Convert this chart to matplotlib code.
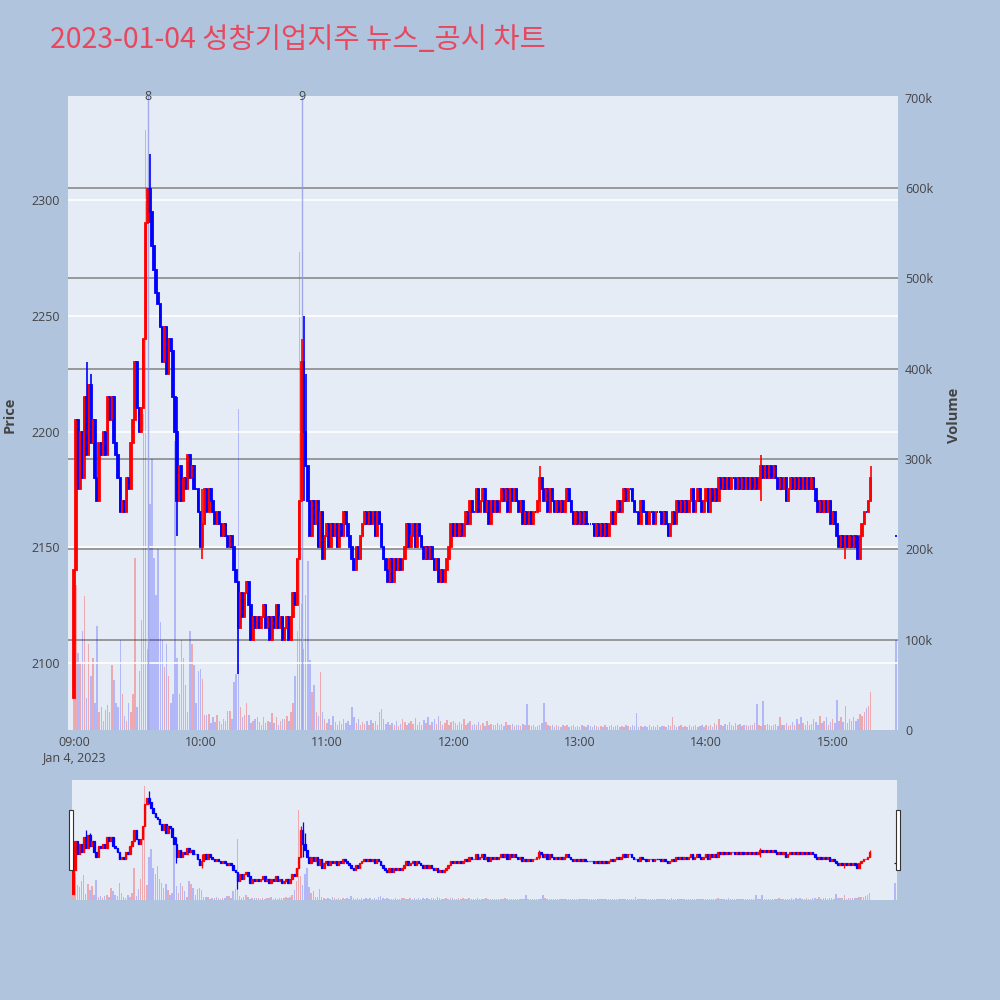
import numpy as np
import matplotlib.pyplot as plt
import matplotlib.transforms as mtransforms

plt.rcParams['font.family'] = ['Open Sans', 'DejaVu Sans']

# 차트 데이터 (1분봉, 09:00 = 0분)
title = '2023-01-04 성창기업지주 뉴스_공시 차트'
first_open = 2085
closes = [
    2140, 2205, 2175, 2200, 2180, 2215, 2190, 2220, 2195, 2205,
    2180, 2170, 2195, 2190, 2200, 2190, 2215, 2205, 2215, 2195,
    2190, 2180, 2165, 2170, 2165, 2180, 2175, 2195, 2205, 2230,
    2210, 2200, 2210, 2240, 2290, 2305, 2295, 2280, 2270, 2260,
    2255, 2245, 2230, 2245, 2225, 2240, 2235, 2215, 2200, 2170,
    2185, 2170, 2180, 2175, 2190, 2180, 2185, 2175, 2175, 2165,
    2150, 2160, 2175, 2165, 2175, 2170, 2165, 2160, 2165, 2160,
    2155, 2160, 2155, 2150, 2155, 2150, 2140, 2135, 2115, 2130,
    2120, 2130, 2135, 2125, 2110, 2120, 2115, 2120, 2115, 2120,
    2125, 2115, 2120, 2110, 2120, 2115, 2125, 2115, 2120, 2110,
    2115, 2120, 2110, 2120, 2130, 2125, 2145, 2170, 2230, 2200,
    2185, 2170, 2155, 2170, 2160, 2170, 2150, 2165, 2145, 2155,
    2160, 2150, 2160, 2155, 2160, 2150, 2160, 2155, 2165, 2160,
    2155, 2150, 2145, 2140, 2150, 2145, 2155, 2160, 2165, 2160,
    2165, 2160, 2165, 2155, 2165, 2160, 2150, 2145, 2140, 2135,
    2145, 2135, 2145, 2140, 2145, 2140, 2145, 2150, 2160, 2150,
    2155, 2160, 2150, 2160, 2155, 2150, 2145, 2150, 2145, 2150,
    2145, 2140, 2145, 2135, 2140, 2135, 2140, 2145, 2150, 2160,
    2155, 2160, 2155, 2160, 2155, 2160, 2165, 2160, 2170, 2165,
    2165, 2175, 2165, 2170, 2175, 2165, 2170, 2160, 2170, 2165,
    2170, 2165, 2170, 2175, 2170, 2175, 2165, 2175, 2170, 2175,
    2170, 2165, 2170, 2160, 2165, 2160, 2165, 2160, 2165, 2165,
    2170, 2180, 2175, 2170, 2175, 2165, 2175, 2170, 2165, 2170,
    2165, 2170, 2165, 2170, 2175, 2170, 2165, 2160, 2165, 2160,
    2165, 2160, 2165, 2160, 2160, 2160, 2160, 2155, 2160, 2155,
    2160, 2155, 2160, 2155, 2160, 2165, 2160, 2165, 2170, 2165,
    2170, 2175, 2170, 2175, 2175, 2170, 2165, 2165, 2160, 2170,
    2165, 2165, 2160, 2165, 2165, 2160, 2165, 2165, 2165, 2160,
    2165, 2160, 2155, 2160, 2165, 2160, 2170, 2165, 2170, 2165,
    2170, 2165, 2170, 2175, 2165, 2170, 2175, 2170, 2165, 2170,
    2175, 2165, 2175, 2170, 2175, 2170, 2180, 2175, 2180, 2175,
    2180, 2175, 2180, 2180, 2175, 2180, 2175, 2180, 2175, 2180,
    2175, 2180, 2175, 2180, 2175, 2180, 2185, 2180, 2185, 2180,
    2185, 2180, 2185, 2180, 2175, 2180, 2175, 2180, 2170, 2175,
    2180, 2175, 2180, 2175, 2180, 2175, 2180, 2175, 2180, 2175,
    2180, 2175, 2170, 2165, 2170, 2165, 2170, 2165, 2170, 2160,
    2165, 2160, 2155, 2150, 2155, 2150, 2155, 2150, 2155, 2150,
    2155, 2150, 2145, 2155, 2160, 2165, 2165, 2170, 2180,
]
wick_min = [0, 6, 8, 36, 49, 61, 78, 108, 109, 110, 221, 326, 366, 372, 378]
wick_high = [2140, 2230, 2225, 2320, 2215, 2175, 2125, 2240, 2250, 2225, 2185, 2190, 2155, 2155, 2185]
wick_low = [2085, 2190, 2195, 2290, 2155, 2145, 2095, 2170, 2170, 2185, 2165, 2170, 2145, 2145, 2170]
volumes_k = [
    170, 160, 85, 75, 110, 148, 35, 95, 60, 80,
    30, 115, 20, 25, 10, 22, 28, 20, 72, 55,
    30, 25, 100, 40, 15, 10, 30, 20, 40, 190,
    25, 65, 122, 350, 664, 90, 250, 300, 190, 150,
    200, 120, 100, 70, 95, 60, 30, 40, 320, 80,
    40, 100, 80, 50, 20, 110, 95, 72, 30, 65,
    68, 57, 17, 17, 18, 8, 14, 9, 17, 10,
    7, 12, 10, 21, 21, 12, 53, 62, 355, 25,
    14, 17, 30, 17, 8, 10, 12, 14, 9, 6,
    14, 8, 10, 9, 19, 8, 14, 6, 10, 12,
    12, 15, 10, 20, 30, 60, 110, 529, 140, 90,
    150, 187, 78, 42, 50, 20, 15, 64, 20, 12,
    8, 12, 6, 15, 9, 5, 10, 7, 12, 8,
    10, 6, 25, 14, 8, 12, 5, 9, 7, 10,
    6, 11, 8, 10, 5, 20, 23, 12, 7, 9,
    5, 8, 6, 10, 4, 7, 12, 9, 6, 8,
    10, 7, 13, 5, 9, 6, 11, 8, 14, 6,
    9, 12, 7, 15, 10, 6, 8, 11, 5, 9,
    10, 8, 6, 9, 7, 12, 5, 8, 10, 6,
    7, 5, 9, 6, 8, 4, 10, 6, 7, 5,
    6, 8, 5, 7, 4, 9, 6, 5, 7, 4,
    5, 6, 4, 7, 5, 29, 6, 4, 5, 3,
    4, 6, 8, 30, 9, 5, 4, 6, 3, 5,
    4, 3, 5, 4, 6, 3, 4, 5, 3, 4,
    3, 5, 4, 3, 6, 4, 3, 5, 4, 3,
    4, 3, 5, 3, 4, 6, 3, 4, 5, 3,
    4, 3, 5, 4, 3, 6, 4, 19, 3, 4,
    3, 4, 3, 5, 3, 4, 3, 5, 3, 4,
    4, 3, 6, 4, 14, 5, 3, 4, 6, 3,
    4, 3, 5, 3, 4, 6, 3, 4, 5, 3,
    5, 4, 6, 3, 8, 5, 12, 6, 4, 7,
    5, 9, 6, 4, 8, 5, 7, 4, 6, 5,
    4, 6, 5, 8, 29, 6, 4, 32, 5, 7,
    6, 4, 5, 7, 4, 14, 6, 5, 8, 4,
    6, 9, 5, 12, 7, 14, 8, 6, 10, 5,
    7, 12, 9, 6, 15, 8, 10, 14, 6, 9,
    12, 8, 33, 10, 14, 9, 27, 8, 12, 10,
    14, 10, 12, 18, 16, 20, 24, 27, 42,
]
# 15:30 동시호가
auction_min = 390
auction_price = 2155
auction_vol_k = 100
# 뉴스/공시 표시
news_min = [35, 108]
news_label = ['8', '9']
hour_labels = ['09:00', '10:00', '11:00', '12:00', '13:00', '14:00', '15:00']

# 캔들 데이터 정리
minutes = np.r_[np.arange(len(closes)), auction_min]
close = np.array(closes + [auction_price], dtype=float)
open_ = np.r_[first_open, closes[:-1], auction_price].astype(float)
high = np.maximum(open_, close)
low = np.minimum(open_, close)
for m, h, l in zip(wick_min, wick_high, wick_low):
    high[m] = max(high[m], h)
    low[m] = min(low[m], l)
volume = np.array(volumes_k + [auction_vol_k]) * 1000
up = close > open_
candle_col = np.where(up, '#FF0000', '#0000FF')
vol_col = np.where(up, '#FF000048', '#0000FF38')

BG = '#B0C4DE'
PLOT_BG = '#E5ECF6'
TXT = '#444444'
price_lim = (2071, 2345)
vol_lim = (0, 702000)

fig = plt.figure(figsize=(10, 10), dpi=100, facecolor=BG)

# ---- 메인 차트 ----
axv = fig.add_axes([0.068, 0.27, 0.83, 0.634])
ax = axv.twinx()
axv.set_facecolor(PLOT_BG)
ax.patch.set_visible(False)

axv.bar(minutes, volume, width=0.7, color=vol_col, linewidth=0)
axv.set_ylim(*vol_lim)
axv.set_yticks(np.arange(0, 700001, 100000))
axv.set_yticklabels(['0'] + ['%dk' % (v // 1000) for v in range(100000, 700001, 100000)])
axv.yaxis.tick_right()
axv.grid(axis='y', color='#8a8a8a', linewidth=1.2)
axv.set_axisbelow(True)
grid_lines = axv.yaxis.get_gridlines()
grid_lines[0].set_visible(False)
grid_lines[-1].set_visible(False)

ax.yaxis.tick_left()
ax.bar(minutes, close - open_, bottom=open_, width=0.7, color=candle_col,
       edgecolor=candle_col, linewidth=1.3, zorder=3)
ax.vlines(minutes, low, high, colors=candle_col, linewidth=1.2, zorder=3)
ax.set_ylim(*price_lim)
ax.set_yticks([2100, 2150, 2200, 2250, 2300])
ax.grid(axis='y', color='white', linewidth=1.2, zorder=0)

for m, lab in zip(news_min, news_label):
    ax.axvline(m, color='#8f9ae6', alpha=0.8, linewidth=1.0, zorder=2)
    ax.text(m, price_lim[1], lab, ha='center', va='center', fontsize=9, color=TXT)

for a in (ax, axv):
    a.set_xlim(-2.8, 391)
    for s in a.spines.values():
        s.set_visible(False)
    a.tick_params(length=0, labelsize=9, labelcolor=TXT)
ax.tick_params(axis='y', pad=6)
axv.tick_params(axis='y', pad=5)
axv.set_xticks(np.arange(0, 361, 60))
axv.set_xticklabels(hour_labels)
axv.tick_params(axis='x', pad=4)

trans = mtransforms.blended_transform_factory(axv.transData, fig.transFigure)
fig.text(0, 0.242, 'Jan 4, 2023', transform=trans, ha='center', va='center',
         fontsize=9, color=TXT)
fig.text(0.010, 0.585, 'Price', rotation=90, ha='center', va='center',
         fontsize=10.5, fontweight='bold', color=TXT)
fig.text(0.954, 0.585, 'Volume', rotation=90, ha='center', va='center',
         fontsize=10.5, fontweight='bold', color=TXT)

fig.text(0.05, 0.96, title, ha='left', va='center', fontsize=20.5,
         color='#E8485E', family=['Noto Sans CJK KR', 'DejaVu Sans'])

# ---- 레인지 슬라이더 ----
sv = fig.add_axes([0.072, 0.10, 0.825, 0.12])
sp = sv.twinx()
sv.set_facecolor(PLOT_BG)
sp.patch.set_visible(False)
sv.bar(minutes, volume, width=0.7, color=vol_col, linewidth=0)
sv.set_ylim(*vol_lim)
sp.bar(minutes, close - open_, bottom=open_, width=0.7, color=candle_col,
       edgecolor=candle_col, linewidth=0.9)
sp.vlines(minutes, low, high, colors=candle_col, linewidth=0.9)
sp.set_ylim(*price_lim)
for a in (sv, sp):
    a.set_xlim(-0.5, 391)
    a.set_xticks([])
    a.set_yticks([])
    for s in a.spines.values():
        s.set_visible(False)

for hx in (0.0685, 0.8955):
    fig.patches.append(plt.Rectangle((hx, 0.13), 0.004, 0.06, transform=fig.transFigure,
                                     facecolor='white', edgecolor='#333333', linewidth=0.8))

fig.savefig('out.png', dpi=100, facecolor=BG)
